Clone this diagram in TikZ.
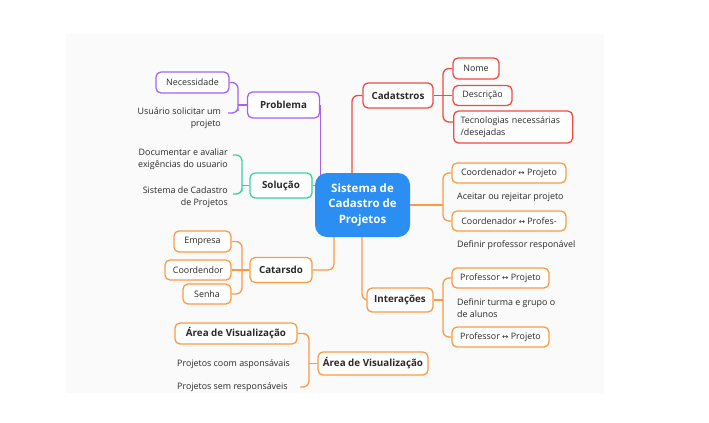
\documentclass[tikz,border=0pt]{standalone}
\usepackage{fontspec}
\setmainfont{Open Sans}
\newfontfamily\arrfont{DejaVu Sans}
\usetikzlibrary{calc}
\definecolor{cpurple}{HTML}{A463F2}
\definecolor{cteal}{HTML}{34D3A6}
\definecolor{corange}{HTML}{FB9A45}
\definecolor{cred}{HTML}{EF4B45}
\definecolor{cblue}{HTML}{2B8EF3}
\definecolor{txt}{HTML}{2A2A2A}
\definecolor{panelbg}{HTML}{FAFAFA}
\newcommand\fsmall{\fontsize{8.9bp}{12bp}\selectfont}
\newcommand\flabel{\fontsize{9.8bp}{12bp}\selectfont\bfseries}
\newcommand\fcentral{\fontsize{11.5bp}{15.5bp}\selectfont\bfseries}
\newcommand\harr{{\arrfont\fontsize{7.5bp}{8bp}\selectfont ↔}}
\pgfdeclarelayer{panel}
\pgfdeclarelayer{links}
\pgfsetlayers{panel,links,main}
\tikzset{
  box/.style={draw, fill=white, rounded corners=5bp, line width=1.3bp, inner sep=0pt, text=txt, align=center},
  lbl/.style={box, font=\flabel},
  sm/.style={box, font=\fsmall},
  txtnode/.style={inner sep=0pt, text=txt, font=\fsmall},
  link/.style={line width=1.3bp, rounded corners=6bp},
  central/.style={fill=cblue, rounded corners=12bp, text=white, font=\fcentral, align=center, inner sep=0pt},
}
\begin{document}
\begin{tikzpicture}[x=1bp,y=-1bp]
\useasboundingbox (0,0) rectangle (709,422);
\begin{pgfonlayer}{panel}
\fill[panelbg] (66,34) rectangle (604,393);
\end{pgfonlayer}

% central
\node[central, minimum width=95bp, minimum height=64bp] (c) at (362.5,205) {Sistema de\\Cadastro de\\Projetos};

% Problema
\node[lbl, draw=cpurple, minimum width=72bp, minimum height=26bp] (prob) at (283.5,105) {Problema};
\node[sm, draw=cpurple, minimum width=73bp, minimum height=21bp] (nec) at (192.5,82.5) {Necessidade};
\node[txtnode, anchor=east, align=right] (usu) at (221,118) {Usuário solicitar um\\projeto};
\coordinate (usuE) at (228,113);
\coordinate (pT) at (238,105);

% Solucao
\node[lbl, draw=cteal, minimum width=62bp, minimum height=25bp] (sol) at (281,185.5) {Solução};
\node[txtnode, anchor=east, align=right] (doc) at (228,159) {Documentar e avaliar\\exigências do usuario};
\node[txtnode, anchor=east, align=right] (sis) at (228,197) {Sistema de Cadastro\\de Projetos};
\coordinate (docE) at (233,155);
\coordinate (sisE) at (233,194);
\coordinate (sT) at (242,185.5);
\coordinate (sC) at (322,185.5);

% Catarsdo
\node[lbl, draw=corange, minimum width=62bp, minimum height=25bp] (cat) at (281,270) {Catarsdo};
\node[sm, draw=corange, minimum width=57bp, minimum height=21bp] (emp) at (202.5,241.5) {Empresa};
\node[sm, draw=corange, minimum width=66bp, minimum height=20bp] (coo) at (198,270) {Coordendor};
\node[sm, draw=corange, minimum width=48bp, minimum height=20bp] (sen) at (207,294) {Senha};
\coordinate (cT) at (242,270);
\coordinate (catUp) at (334,228);

% Area de Visualizacao
\node[lbl, draw=corange, minimum width=122bp, minimum height=21bp] (areaL) at (236,333.5) {Área de Visualização};
\node[lbl, draw=corange, minimum width=110bp, minimum height=23bp] (areaR) at (373,363.5) {Área de Visualização};
\node[txtnode, anchor=west] (coom) at (177,364) {Projetos coom asponsávais};
\node[txtnode, anchor=west] (sem) at (177,387) {Projetos sem responsáveis};
\coordinate (semE) at (300,387);
\coordinate (aT) at (309,363.5);

% Cadatstros
\node[lbl, draw=cred, minimum width=70bp, minimum height=25bp] (cad) at (398,95.5) {Cadatstros};
\node[sm, draw=cred, minimum width=46bp, minimum height=21bp] (nome) at (476,68.5) {Nome};
\node[sm, draw=cred, minimum width=59bp, minimum height=20bp] (desc) at (482.5,95.5) {Descrição};
\node[sm, draw=cred, minimum width=119bp, minimum height=32bp, align=left, anchor=west, inner xsep=7bp, text width=105bp] (tec) at (453,127) {Tecnologias necessárias\\/desejadas};
\coordinate (tecW) at (453,122);
\coordinate (rT) at (443,95.5);
\coordinate (cadDown) at (352,185);

% Interacoes group 1
\node[sm, draw=corange, minimum width=114bp, minimum height=20bp] (cp1) at (509,173) {Coordenador \harr\ Projeto};
\node[txtnode, anchor=west] (ace) at (457,197) {Aceitar ou rejeitar projeto};
\node[sm, draw=corange, minimum width=114bp, minimum height=20bp] (cp2) at (509,221) {Coordenador \harr\ Profes-};
\node[txtnode, anchor=west] (def) at (457,245) {Definir professor responável};
\coordinate (g1T) at (443,205);

% Interacoes
\node[lbl, draw=corange, minimum width=66bp, minimum height=24bp] (int) at (400,300) {Interações};
\node[sm, draw=corange, minimum width=97bp, minimum height=20bp] (pp1) at (500.5,278) {Professor \harr\ Projeto};
\node[txtnode, anchor=west, align=left] (tur) at (457,308) {Definir turma e grupo o\\de alunos};
\node[sm, draw=corange, minimum width=97bp, minimum height=20bp] (pp2) at (500.5,337) {Professor \harr\ Projeto};
\coordinate (g2T) at (443,300);
\coordinate (intDown) at (362,228);

\begin{pgfonlayer}{links}
% purple
\draw[link, cpurple] (nec.east) -| (pT) |- (usuE);
\draw[link, cpurple] (prob.west) -- (pT);
\draw[link, cpurple] (prob.east) -- (prob.east |- c.center);
% teal
\draw[link, cteal] (docE) -| (sT) |- (sisE);
\draw[link, cteal] (sol.west) -- (sT);
\draw[link, cteal] (sol.east) -- (sC);
% catarsdo
\draw[link, corange] (emp.east) -| (cT) |- (sen.east);
\draw[link, corange] (cat.west) -- (coo.east);
\draw[link, corange] (cat.east) -| (catUp);
% area
\draw[link, corange] (areaL.east) -| (aT) |- (semE);
\draw[link, corange] (areaR.west) -- (aT);
% red
\draw[link, cred] (cadDown) |- (cad.west);
\draw[link, cred] (nome.west) -| (rT) |- (tecW);
\draw[link, cred] (cad.east) -- (desc.west);
% orange right 1
\draw[link, corange] (c.east) -- (g1T);
\draw[link, corange] (cp1.west) -| (g1T) |- (cp2.west);
% interacoes
\draw[link, corange] (intDown) |- (int.west);
\draw[link, corange] (int.east) -- (g2T);
\draw[link, corange] (pp1.west) -| (g2T) |- (pp2.west);
\end{pgfonlayer}
\end{tikzpicture}
\end{document}
